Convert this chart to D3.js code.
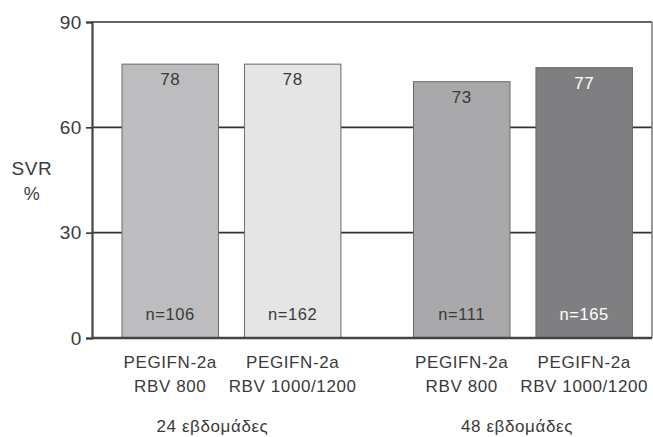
<!DOCTYPE html>
<html>
<head>
<meta charset="utf-8">
<script src="https://cdn.jsdelivr.net/npm/d3@7"></script>
<style>
  html, body { margin: 0; padding: 0; background: #fff; }
  svg { display: block; font-family: "Liberation Sans", Arial, Helvetica, sans-serif; }
  svg text { letter-spacing: 0.6px; }
</style>
</head>
<body>
<svg id="chart" width="653" height="437"></svg>
<script>
// Treatment duration groups
const groups = ["24 εβδομάδες", "48 εβδομάδες"];
// Regimens within each group
const regimens = ["RBV 800", "RBV 1000/1200"];
const drugLabel = "PEGIFN-2a";
// SVR rate (%) per bar, in group order
const svrValues = [78, 78, 73, 77];
// Patients per arm
const sampleSizes = [106, 162, 111, 165];
const yTicks = [0, 30, 60, 90];
const barColors = ["#bdbdbf", "#e5e5e6", "#a9a9ab", "#7f7f81"];
const labelColors = ["#3a3a3a", "#3a3a3a", "#3a3a3a", "#fff"];

const bars = svrValues.map((v, i) => ({
  group: groups[Math.floor(i / 2)],
  regimen: regimens[i % 2],
  value: v,
  n: sampleSizes[i],
  fill: barColors[i],
  textFill: labelColors[i]
}));

const svg = d3.select("#chart");
const plotLeft = 92, plotRight = 652, plotTop = 22, plotBottom = 338;

const y = d3.scaleLinear().domain([0, 90]).range([plotBottom, plotTop]);
const x0 = d3.scaleBand().domain(groups).range([plotLeft, plotRight])
  .paddingInner(0.249).paddingOuter(0.085).align(0.605);
const x1 = d3.scaleBand().domain(regimens).range([0, x0.bandwidth()])
  .paddingInner(0.212).paddingOuter(0);
const cx = d => x0(d.group) + x1(d.regimen) + x1.bandwidth() / 2;

const textColor = "#3a3a3a";

// Horizontal reference lines at interior ticks
svg.append("g").selectAll("line")
  .data(yTicks.filter(t => t > 0 && t < 90))
  .join("line")
  .attr("x1", plotLeft).attr("x2", plotRight)
  .attr("y1", d => y(d)).attr("y2", d => y(d))
  .attr("stroke", "#333").attr("stroke-width", 1.6);

// Frame: top and right edges
svg.append("line").attr("x1", plotLeft).attr("x2", plotRight)
  .attr("y1", y(90)).attr("y2", y(90))
  .attr("stroke", "#666").attr("stroke-width", 2);
svg.append("line").attr("x1", plotRight).attr("x2", plotRight)
  .attr("y1", y(90)).attr("y2", y(0))
  .attr("stroke", "#777").attr("stroke-width", 1.5);

// Bars
const barG = svg.append("g");
barG.selectAll("rect")
  .data(bars)
  .join("rect")
  .attr("x", d => x0(d.group) + x1(d.regimen))
  .attr("y", d => y(d.value))
  .attr("width", x1.bandwidth())
  .attr("height", d => y(0) - y(d.value))
  .attr("fill", d => d.fill)
  .attr("stroke", "#6a6a6a")
  .attr("stroke-width", 1);

// Value labels near bar tops
barG.selectAll("text.val")
  .data(bars)
  .join("text")
  .attr("class", "val")
  .attr("x", cx)
  .attr("y", d => y(d.value) + 21)
  .attr("text-anchor", "middle")
  .attr("font-size", 17)
  .attr("fill", d => d.textFill)
  .text(d => d.value);

// Sample sizes near bar bases
barG.selectAll("text.n")
  .data(bars)
  .join("text")
  .attr("class", "n")
  .attr("x", cx)
  .attr("y", y(0) - 18)
  .attr("text-anchor", "middle")
  .attr("font-size", 16.5)
  .attr("fill", d => d.textFill)
  .text(d => "n=" + d.n);

// Baseline
svg.append("line").attr("x1", plotLeft).attr("x2", plotRight)
  .attr("y1", y(0)).attr("y2", y(0))
  .attr("stroke", "#444").attr("stroke-width", 2.4);

// Y axis
const yAxis = svg.append("g")
  .attr("transform", `translate(${plotLeft},0)`)
  .call(d3.axisLeft(y).tickValues(yTicks).tickSize(6).tickPadding(4));
yAxis.select(".domain").attr("stroke", "#444").attr("stroke-width", 2.2);
yAxis.selectAll(".tick line").attr("stroke", "#333").attr("stroke-width", 1.6);
yAxis.selectAll(".tick text")
  .attr("font-size", 19).attr("fill", textColor)
  .attr("font-family", "Liberation Sans, Arial, sans-serif");

// Y axis title
svg.append("text").attr("x", 32).attr("y", 175)
  .attr("text-anchor", "middle").attr("font-size", 19).attr("fill", textColor)
  .text("SVR");
svg.append("text").attr("x", 32).attr("y", 200)
  .attr("text-anchor", "middle").attr("font-size", 18).attr("fill", textColor)
  .text("%");

// Category labels under each bar
const catG = svg.append("g");
catG.selectAll("text.drug")
  .data(bars)
  .join("text")
  .attr("class", "drug")
  .attr("x", cx)
  .attr("y", 368)
  .attr("text-anchor", "middle")
  .attr("font-size", 17).attr("fill", textColor)
  .text(drugLabel);
catG.selectAll("text.reg")
  .data(bars)
  .join("text")
  .attr("class", "reg")
  .attr("x", cx)
  .attr("y", 392)
  .attr("text-anchor", "middle")
  .attr("font-size", 17).attr("fill", textColor)
  .text(d => d.regimen);

// Group labels, nudged left of the group centre
const groupNudge = [-19, -6];
svg.append("g").selectAll("text")
  .data(groups)
  .join("text")
  .attr("x", (d, i) => x0(d) + x0.bandwidth() / 2 + groupNudge[i])
  .attr("y", 432)
  .attr("text-anchor", "middle")
  .attr("font-size", 17).attr("fill", textColor)
  .text(d => d);
</script>
</body>
</html>
